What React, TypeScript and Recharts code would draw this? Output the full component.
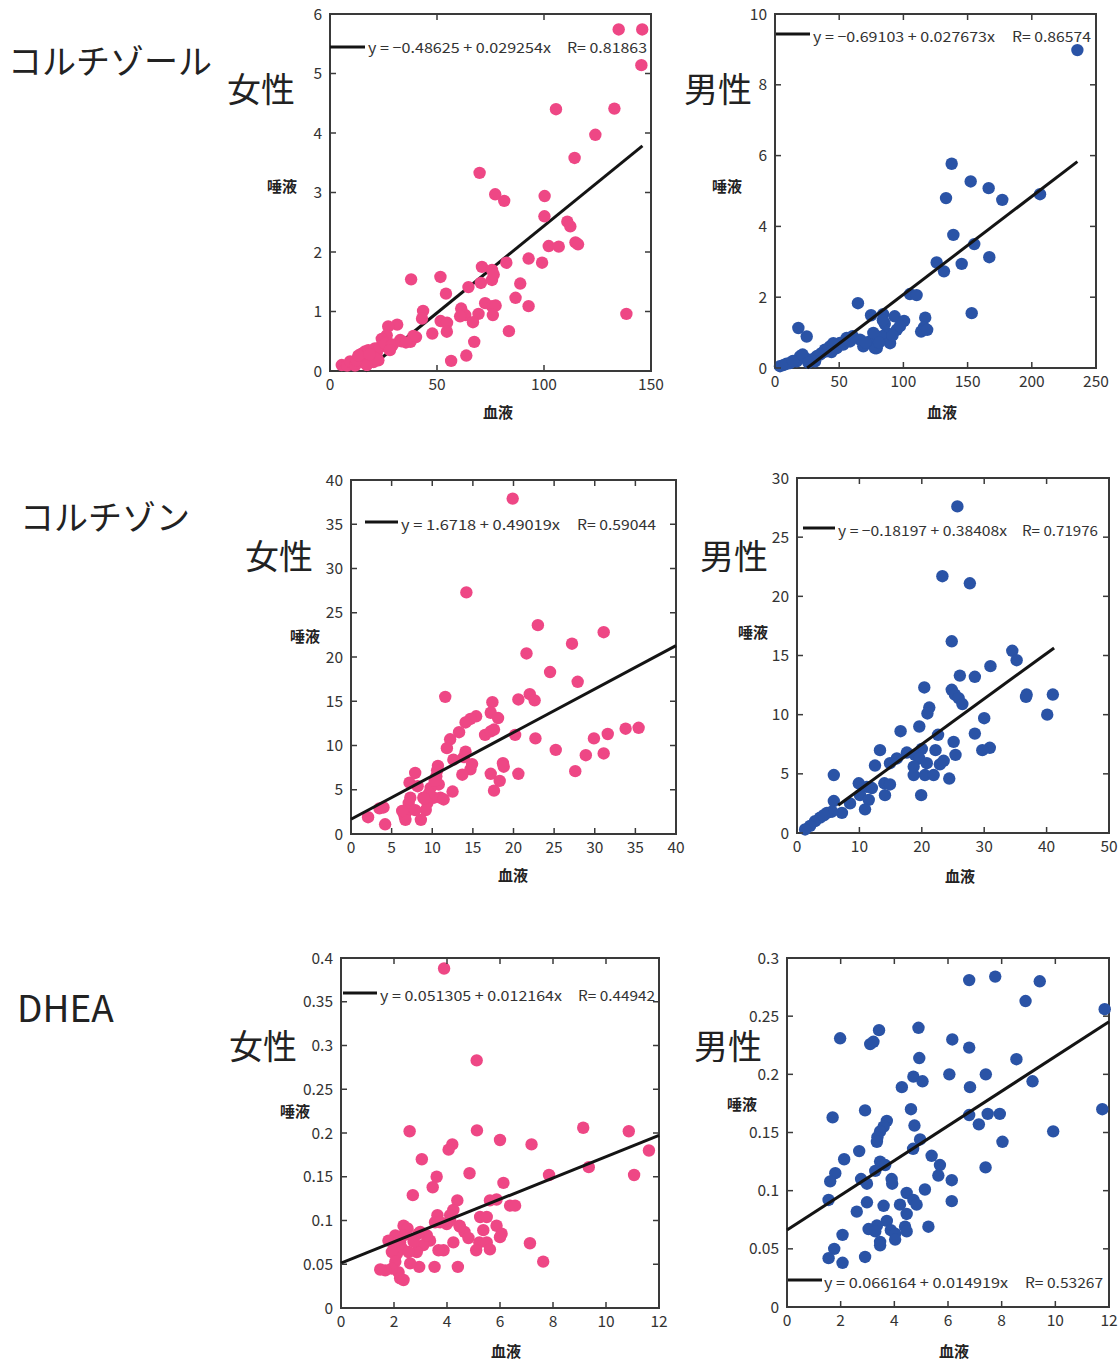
import React from "react";
import { ScatterChart, Scatter, XAxis, YAxis, ReferenceArea } from "recharts";

const PINK = "#ee4785";
const BLUE = "#2a53a6";
const INK = "#333";
const FONT = "'Noto Sans CJK JP', 'Noto Sans', sans-serif";

// ---- tick labels ----
const cortisolFemaleXTicks = [0, 50, 100, 150];
const cortisolFemaleYTicks = [0, 1, 2, 3, 4, 5, 6];
const cortisolMaleXTicks = [0, 50, 100, 150, 200, 250];
const cortisolMaleYTicks = [0, 2, 4, 6, 8, 10];
const cortisoneFemaleXTicks = [0, 5, 10, 15, 20, 25, 30, 35, 40];
const cortisoneFemaleYTicks = [0, 5, 10, 15, 20, 25, 30, 35, 40];
const cortisoneMaleXTicks = [0, 10, 20, 30, 40, 50];
const cortisoneMaleYTicks = [0, 5, 10, 15, 20, 25, 30];
const dheaXTicks = [0, 2, 4, 6, 8, 10, 12];
const dheaFemaleYTicks = [0, 0.05, 0.1, 0.15, 0.2, 0.25, 0.3, 0.35, 0.4];
const dheaMaleYTicks = [0, 0.05, 0.1, 0.15, 0.2, 0.25, 0.3];

// ---- [血液, 唾液] pairs ----
const cortisolFemale: [number, number][] = [
  [134.9, 5.74], [145.9, 5.74], [145.5, 5.14], [105.6, 4.4], [132.9, 4.41], [124.0, 3.97], [114.3, 3.58],
  [69.9, 3.33], [77.2, 2.97], [81.4, 2.86], [100.3, 2.94], [100.2, 2.6], [110.9, 2.51], [112.3, 2.43],
  [102.2, 2.1], [106.9, 2.09], [114.7, 2.16], [115.9, 2.13], [92.8, 1.89], [99.1, 1.82], [82.4, 1.82],
  [71.0, 1.75], [75.7, 1.7], [70.5, 1.48], [75.7, 1.53], [76.5, 1.62], [64.7, 1.41], [88.9, 1.47],
  [86.7, 1.23], [92.8, 1.09], [72.5, 1.14], [75.7, 1.09], [77.4, 1.1], [76.1, 0.94], [69.4, 0.96],
  [61.3, 1.05], [63.2, 0.94], [60.8, 0.92], [66.8, 0.82], [83.6, 0.67], [138.5, 0.96], [51.6, 1.58],
  [37.9, 1.54], [54.2, 1.3], [43.5, 1.01], [43.0, 0.88], [51.7, 0.84], [54.7, 0.81], [54.6, 0.66],
  [47.8, 0.63], [40.2, 0.57], [37.6, 0.49], [67.4, 0.49], [63.7, 0.26], [56.6, 0.17], [31.4, 0.78],
  [27.2, 0.75], [26.5, 0.6], [24.2, 0.54], [32.8, 0.52], [29.3, 0.44], [39.0, 0.59], [5.5, 0.1],
  [8.0, 0.09], [9.4, 0.16], [11.7, 0.09], [13.2, 0.24], [14.8, 0.29], [16.4, 0.33], [16.4, 0.13],
  [17.9, 0.35], [19.6, 0.24], [21.0, 0.38], [22.6, 0.18], [21.8, 0.3], [23.4, 0.4], [25.0, 0.49],
  [25.7, 0.46], [28.9, 0.44], [20.3, 0.15], [17.2, 0.1], [12.5, 0.18], [13.3, 0.26], [21.0, 0.21],
  [28.0, 0.35], [18.5, 0.28], [33.5, 0.5], [35.5, 0.48],
];
const cortisolMale: [number, number][] = [
  [235.5, 8.98], [137.6, 5.77], [152.4, 5.27], [166.4, 5.08], [177.0, 4.75], [206.4, 4.91], [133.2, 4.8],
  [138.9, 3.76], [155.2, 3.5], [166.9, 3.13], [145.4, 2.94], [125.9, 2.98], [131.6, 2.73], [153.2, 1.55],
  [105.1, 2.09], [110.3, 2.06], [64.6, 1.83], [74.8, 1.49], [84.2, 1.52], [93.2, 1.46], [100.5, 1.33],
  [117.0, 1.42], [116.0, 1.15], [113.8, 1.03], [118.5, 1.08], [18.2, 1.13], [24.7, 0.89], [87.0, 0.99],
  [94.8, 1.08], [87.0, 0.8], [79.2, 0.56], [68.8, 0.61], [66.2, 0.8], [74.0, 0.75], [83.0, 0.89],
  [89.6, 0.7], [97.3, 1.18], [76.6, 0.99], [77.9, 0.56], [85.5, 1.25], [84.0, 1.35], [55.8, 0.85],
  [50.6, 0.71], [48.0, 0.56], [42.8, 0.61], [38.9, 0.52], [36.3, 0.42], [32.4, 0.33], [28.6, 0.24],
  [23.4, 0.28], [19.5, 0.33], [16.9, 0.19], [11.7, 0.14], [6.5, 0.08], [3.9, 0.05], [58.4, 0.75],
  [53.2, 0.66], [45.4, 0.7], [40.2, 0.47], [35.0, 0.38], [31.2, 0.19], [9.0, 0.12], [14.0, 0.2],
  [21.5, 0.38], [26.0, 0.15], [60.5, 0.9], [44.0, 0.45], [70.5, 0.72], [81.0, 0.72], [91.5, 0.92],
];
const cortisoneFemale: [number, number][] = [
  [19.9, 37.9], [14.2, 27.3], [23.0, 23.6], [31.1, 22.8], [27.2, 21.5], [21.6, 20.4], [24.5, 18.3],
  [27.9, 17.2], [11.6, 15.5], [20.6, 15.2], [22.0, 15.8], [22.6, 15.1], [17.4, 14.9], [17.2, 13.7],
  [18.1, 13.1], [15.4, 13.3], [14.7, 13.0], [14.1, 12.6], [13.3, 11.5], [12.2, 10.7], [11.8, 9.7],
  [16.5, 11.2], [17.2, 11.6], [17.6, 11.8], [20.2, 11.2], [22.7, 10.8], [25.2, 9.5], [29.9, 10.8],
  [31.6, 11.3], [33.8, 11.9], [35.4, 12.0], [28.9, 8.9], [31.1, 9.1], [27.6, 7.1], [20.6, 6.8],
  [17.2, 6.8], [18.3, 6.0], [18.7, 8.0], [18.8, 7.6], [17.6, 4.9], [14.1, 9.3], [13.9, 8.7],
  [14.7, 7.3], [13.7, 6.7], [14.9, 7.9], [12.6, 8.4], [12.5, 4.8], [10.7, 7.7], [10.5, 6.5],
  [10.8, 5.6], [9.8, 5.2], [11.0, 4.1], [10.2, 4.1], [9.6, 4.6], [8.9, 4.1], [9.4, 3.5], [9.2, 2.7],
  [8.6, 1.6], [7.9, 6.9], [8.2, 5.4], [7.2, 5.8], [7.3, 4.1], [7.1, 3.5], [6.9, 2.6], [6.6, 2.0],
  [6.7, 1.6], [7.9, 2.7], [6.3, 2.6], [4.0, 3.0], [3.5, 2.9], [4.2, 1.1], [2.1, 1.9], [11.4, 3.9],
  [10.6, 7.2], [10.3, 6.0], [9.0, 4.0],
];
const cortisoneMale: [number, number][] = [
  [25.7, 27.6], [23.3, 21.7], [27.7, 21.1], [24.8, 16.2], [34.5, 15.4], [35.2, 14.6], [31.0, 14.1],
  [26.1, 13.3], [28.5, 13.2], [20.4, 12.3], [24.8, 12.1], [25.3, 11.7], [25.9, 11.4], [26.5, 10.9],
  [36.8, 11.7], [36.7, 11.5], [41.0, 11.7], [40.1, 10.0], [21.2, 10.6], [20.9, 10.1], [30.0, 9.7],
  [19.6, 9.0], [16.6, 8.6], [28.5, 8.4], [22.6, 8.3], [25.1, 7.7], [30.9, 7.2], [29.7, 7.0],
  [25.4, 6.6], [22.2, 7.0], [20.0, 7.1], [13.3, 7.0], [17.6, 6.8], [16.0, 6.3], [14.9, 5.9],
  [12.5, 5.7], [18.9, 6.6], [19.6, 6.3], [20.8, 5.9], [18.7, 5.6], [23.5, 6.1], [22.9, 5.8],
  [18.7, 4.9], [20.5, 4.9], [21.9, 4.9], [24.4, 4.6], [19.9, 3.2], [14.0, 4.2], [14.1, 3.2],
  [5.9, 4.9], [9.9, 4.2], [11.2, 3.9], [12.0, 3.8], [10.1, 3.2], [11.5, 2.8], [10.9, 2.0],
  [8.5, 2.5], [7.2, 1.7], [5.9, 2.7], [5.6, 1.8], [4.8, 1.7], [3.7, 1.3], [2.9, 1.0], [2.1, 0.6],
  [1.3, 0.3], [4.3, 1.5], [14.9, 4.1],
];
const dheaFemale: [number, number][] = [
  [3.89, 0.388], [5.12, 0.283], [2.59, 0.202], [5.13, 0.203], [9.14, 0.206], [10.86, 0.202], [6.0, 0.192],
  [7.19, 0.187], [4.2, 0.187], [4.06, 0.181], [3.05, 0.17], [11.62, 0.18], [9.35, 0.161], [4.85, 0.154],
  [3.61, 0.15], [7.85, 0.152], [11.06, 0.152], [3.46, 0.138], [6.13, 0.143], [2.71, 0.129], [4.39, 0.123],
  [5.62, 0.123], [5.87, 0.124], [6.38, 0.117], [6.57, 0.117], [5.25, 0.104], [5.5, 0.104], [4.24, 0.112],
  [4.12, 0.106], [3.64, 0.106], [3.55, 0.098], [3.99, 0.096], [4.47, 0.094], [4.66, 0.087], [4.81, 0.08],
  [5.37, 0.089], [5.87, 0.094], [6.06, 0.085], [6.0, 0.081], [7.13, 0.074], [5.22, 0.075], [5.5, 0.075],
  [5.62, 0.067], [5.1, 0.066], [7.63, 0.053], [4.41, 0.047], [3.53, 0.047], [2.95, 0.047], [4.24, 0.075],
  [3.87, 0.066], [3.68, 0.066], [3.36, 0.077], [3.11, 0.072], [2.99, 0.087], [2.86, 0.064], [2.61, 0.051],
  [2.36, 0.094], [2.51, 0.091], [2.36, 0.083], [2.23, 0.075], [2.3, 0.068], [2.55, 0.064], [2.11, 0.062],
  [1.98, 0.074], [1.92, 0.064], [2.05, 0.053], [2.17, 0.041], [2.23, 0.034], [2.36, 0.032], [1.92, 0.045],
  [1.67, 0.043], [1.48, 0.044], [2.05, 0.083], [1.79, 0.077], [2.74, 0.079], [3.24, 0.083], [3.74, 0.098],
  [4.49, 0.093], [4.12, 0.1], [2.92, 0.085], [2.74, 0.076],
];
const dheaMale: [number, number][] = [
  [6.79, 0.281], [7.76, 0.284], [9.42, 0.28], [8.89, 0.263], [11.84, 0.256], [4.9, 0.24], [3.43, 0.238],
  [1.98, 0.231], [3.1, 0.226], [3.22, 0.228], [6.16, 0.23], [6.79, 0.223], [4.93, 0.214], [8.55, 0.213],
  [6.05, 0.2], [7.41, 0.2], [4.71, 0.198], [5.05, 0.194], [9.15, 0.194], [4.28, 0.189], [6.82, 0.189],
  [4.62, 0.17], [2.91, 0.169], [11.75, 0.17], [1.7, 0.163], [3.72, 0.16], [6.79, 0.165], [7.48, 0.166],
  [7.93, 0.166], [4.75, 0.156], [7.15, 0.157], [9.92, 0.151], [3.6, 0.155], [3.47, 0.151], [3.37, 0.146],
  [3.35, 0.142], [4.96, 0.144], [4.7, 0.136], [8.03, 0.142], [2.69, 0.134], [5.39, 0.13], [2.13, 0.127],
  [3.47, 0.125], [3.66, 0.122], [5.7, 0.122], [7.4, 0.12], [5.64, 0.113], [3.29, 0.117], [1.8, 0.115],
  [1.61, 0.108], [2.76, 0.11], [2.98, 0.106], [3.9, 0.11], [3.92, 0.106], [6.14, 0.109], [5.14, 0.101],
  [1.55, 0.092], [2.98, 0.09], [4.21, 0.088], [4.46, 0.098], [4.71, 0.092], [4.83, 0.088], [6.14, 0.091],
  [3.6, 0.087], [2.6, 0.082], [4.46, 0.08], [3.72, 0.074], [3.35, 0.07], [3.04, 0.067], [3.29, 0.065],
  [3.87, 0.066], [4.03, 0.063], [4.03, 0.058], [4.4, 0.069], [4.46, 0.065], [5.27, 0.069], [3.47, 0.056],
  [3.47, 0.053], [2.07, 0.062], [1.76, 0.05], [1.55, 0.042], [2.91, 0.043], [2.07, 0.038],
];

// regression line end points
const cortisolFemaleFit: [number, number][] = [[16.6, 0], [146, 3.785]];
const cortisolMaleFit: [number, number][] = [[25, 0], [235.5, 5.83]];
const cortisoneFemaleFit: [number, number][] = [[0, 1.67], [40, 21.28]];
const cortisoneMaleFit: [number, number][] = [[6.6, 2.35], [41.2, 15.64]];
const dheaFemaleFit: [number, number][] = [[0, 0.0513], [12, 0.1973]];
const dheaMaleFit: [number, number][] = [[0, 0.0662], [12, 0.2452]];

const toXY = (pairs: [number, number][]) => pairs.map(([x, y]) => ({ x, y }));

type PanelSpec = {
  left: number; right: number; top: number; bottom: number;
  xTicks: number[]; yTicks: number[];
  points: [number, number][]; fit: [number, number][];
  color: string; fitOnTop: boolean;
};

const panels: PanelSpec[] = [
  { left: 330, right: 651, top: 14, bottom: 371, xTicks: cortisolFemaleXTicks, yTicks: cortisolFemaleYTicks, points: cortisolFemale, fit: cortisolFemaleFit, color: PINK, fitOnTop: false },
  { left: 775, right: 1096, top: 14, bottom: 368, xTicks: cortisolMaleXTicks, yTicks: cortisolMaleYTicks, points: cortisolMale, fit: cortisolMaleFit, color: BLUE, fitOnTop: true },
  { left: 351, right: 676, top: 480, bottom: 834, xTicks: cortisoneFemaleXTicks, yTicks: cortisoneFemaleYTicks, points: cortisoneFemale, fit: cortisoneFemaleFit, color: PINK, fitOnTop: true },
  { left: 797, right: 1109, top: 478, bottom: 833, xTicks: cortisoneMaleXTicks, yTicks: cortisoneMaleYTicks, points: cortisoneMale, fit: cortisoneMaleFit, color: BLUE, fitOnTop: true },
  { left: 341, right: 659, top: 958, bottom: 1308, xTicks: dheaXTicks, yTicks: dheaFemaleYTicks, points: dheaFemale, fit: dheaFemaleFit, color: PINK, fitOnTop: true },
  { left: 787, right: 1109, top: 958, bottom: 1307, xTicks: dheaXTicks, yTicks: dheaMaleYTicks, points: dheaMale, fit: dheaMaleFit, color: BLUE, fitOnTop: true },
];

const FRAME = "#3a3a3a";
const frame = { stroke: FRAME, strokeWidth: 2 };
const TICK_LEN = 6;
const LABEL_GAP_Y = 8;
const LABEL_GAP_X = 7;

// left axis ticks: label outside, inward marks on the left and mirrored on the right frame
const makeLeftTick = (plotW: number) => (p: any) => {
  const x0 = p.x + LABEL_GAP_Y;
  return (
    <g>
      <text x={p.x} y={p.y + 5.5} textAnchor="end" fontSize={15.5} fill={INK} fontFamily={FONT}>{p.payload.value}</text>
      <line x1={x0} x2={x0 + TICK_LEN} y1={p.y} y2={p.y} stroke={FRAME} strokeWidth={1.5} />
      <line x1={x0 + plotW - TICK_LEN} x2={x0 + plotW} y1={p.y} y2={p.y} stroke={FRAME} strokeWidth={1.5} />
    </g>
  );
};
// bottom axis ticks: label below, inward marks at bottom and mirrored at the top frame
const makeBottomTick = (plotH: number) => (p: any) => {
  const y0 = p.y - LABEL_GAP_X;
  return (
    <g>
      <text x={p.x} y={p.y + 12} textAnchor="middle" fontSize={15.5} fill={INK} fontFamily={FONT}>{p.payload.value}</text>
      <line x1={p.x} x2={p.x} y1={y0} y2={y0 - TICK_LEN} stroke={FRAME} strokeWidth={1.5} />
      <line x1={p.x} x2={p.x} y1={y0 - plotH} y2={y0 - plotH + TICK_LEN} stroke={FRAME} strokeWidth={1.5} />
    </g>
  );
};

function Panel({ p }: { p: PanelSpec }) {
  const ML = 45, MT = 14, MR = 14, XH = 30, MB = 4;
  const plotW = p.right - p.left;
  const plotH = p.bottom - p.top;
  const w = plotW + ML + MR;
  const h = plotH + MT + XH + MB;
  const xDom = [p.xTicks[0], p.xTicks[p.xTicks.length - 1]];
  const yDom = [p.yTicks[0], p.yTicks[p.yTicks.length - 1]];
  const dot = (s: any) => <circle cx={s.cx} cy={s.cy} r={6.2} fill={p.color} />;
  const fitLine = (
    <Scatter data={toXY(p.fit)} line={{ stroke: "#141414", strokeWidth: 3 }} shape={() => <g />} isAnimationActive={false} legendType="none" />
  );
  return (
    <div style={{ position: "absolute", left: p.left - ML, top: p.top - MT }}>
      <ScatterChart width={w} height={h} margin={{ top: MT, right: MR, bottom: MB, left: 5 }}>
        <XAxis type="number" dataKey="x" domain={xDom} ticks={p.xTicks} interval={0} height={XH}
          tickSize={0} tickMargin={LABEL_GAP_X} tick={makeBottomTick(plotH)} axisLine={frame} />
        <YAxis type="number" dataKey="y" domain={yDom} ticks={p.yTicks} interval={0} width={40}
          tickSize={0} tickMargin={LABEL_GAP_Y} tick={makeLeftTick(plotW)} axisLine={frame} />
        <ReferenceArea x1={xDom[0]} x2={xDom[1]} y1={yDom[0]} y2={yDom[1]} fill="none" fillOpacity={0}
          stroke={FRAME} strokeWidth={2} />
        {!p.fitOnTop && fitLine}
        <Scatter data={toXY(p.points)} shape={dot} isAnimationActive={false} />
        {p.fitOnTop && fitLine}
      </ScatterChart>
    </div>
  );
}

// regression legends: short line + equation + R
const legends = [
  { lx: [330, 365], ly: 47, eq: "y = −0.48625 + 0.029254x", eqX: [368, 551], r: "R= 0.81863", rX: [567, 647], base: 53 },
  { lx: [776, 810], ly: 34, eq: "y = −0.69103 + 0.027673x", eqX: [813, 995], r: "R= 0.86574", rX: [1012, 1091], base: 41.5 },
  { lx: [365, 398], ly: 522, eq: "y = 1.6718 + 0.49019x", eqX: [401, 560], r: "R= 0.59044", rX: [577, 656], base: 530 },
  { lx: [803, 835], ly: 528, eq: "y = −0.18197 + 0.38408x", eqX: [838, 1007], r: "R= 0.71976", rX: [1022, 1098], base: 535.5 },
  { lx: [343, 377], ly: 993, eq: "y = 0.051305 + 0.012164x", eqX: [380, 562], r: "R= 0.44942", rX: [578, 655], base: 1000.5 },
  { lx: [788, 822], ly: 1280, eq: "y = 0.066164 + 0.014919x", eqX: [824, 1008], r: "R= 0.53267", rX: [1025, 1103], base: 1287.5 },
];

const titles = [
  { text: "コルチゾール", x: 8, y: 74, size: 34 },
  { text: "コルチゾン", x: 20, y: 530, size: 34 },
  { text: "DHEA", x: 17, y: 1022, size: 37 },
  { text: "女性", x: 227, y: 102, size: 34 },
  { text: "男性", x: 684, y: 102, size: 34 },
  { text: "女性", x: 245, y: 569, size: 34 },
  { text: "男性", x: 700, y: 569, size: 34 },
  { text: "女性", x: 229, y: 1059, size: 34 },
  { text: "男性", x: 694, y: 1059, size: 34 },
];

const salivaLabels = [
  { x: 267, y: 192 }, { x: 712, y: 192 }, { x: 290, y: 642 },
  { x: 738, y: 638 }, { x: 280, y: 1117 }, { x: 727, y: 1110 },
];
const bloodLabels = [
  { x: 498, y: 418 }, { x: 942, y: 418 }, { x: 513, y: 881 },
  { x: 960, y: 882 }, { x: 506, y: 1357 }, { x: 954, y: 1357 },
];

export default function App() {
  return (
    <div style={{ position: "absolute", left: 0, top: 0, width: 1119, height: 1362, background: "#fff", overflow: "hidden" }}>
      {panels.map((p, i) => <Panel key={i} p={p} />)}
      <svg width={1119} height={1362} style={{ position: "absolute", left: 0, top: 0, pointerEvents: "none" }}>
        {legends.map((l, i) => (
          <g key={i} fontFamily={FONT} fontSize={14} fill={INK}>
            <line x1={l.lx[0]} x2={l.lx[1]} y1={l.ly} y2={l.ly} stroke="#141414" strokeWidth={3} />
            <text x={l.eqX[0]} y={l.base} textLength={l.eqX[1] - l.eqX[0]} lengthAdjust="spacingAndGlyphs">{l.eq}</text>
            <text x={l.rX[0]} y={l.base} textLength={l.rX[1] - l.rX[0]} lengthAdjust="spacingAndGlyphs">{l.r}</text>
          </g>
        ))}
        {titles.map((t, i) => (
          <text key={i} x={t.x} y={t.y} fontSize={t.size} fill="#222" fontFamily={FONT}>{t.text}</text>
        ))}
        {salivaLabels.map((s, i) => (
          <text key={i} x={s.x} y={s.y} fontSize={15} fill="#222" fontFamily={FONT} fontWeight={600}>唾液</text>
        ))}
        {bloodLabels.map((b, i) => (
          <text key={i} x={b.x} y={b.y} fontSize={15} fill="#222" textAnchor="middle" fontFamily={FONT} fontWeight={600}>血液</text>
        ))}
      </svg>
    </div>
  );
}
